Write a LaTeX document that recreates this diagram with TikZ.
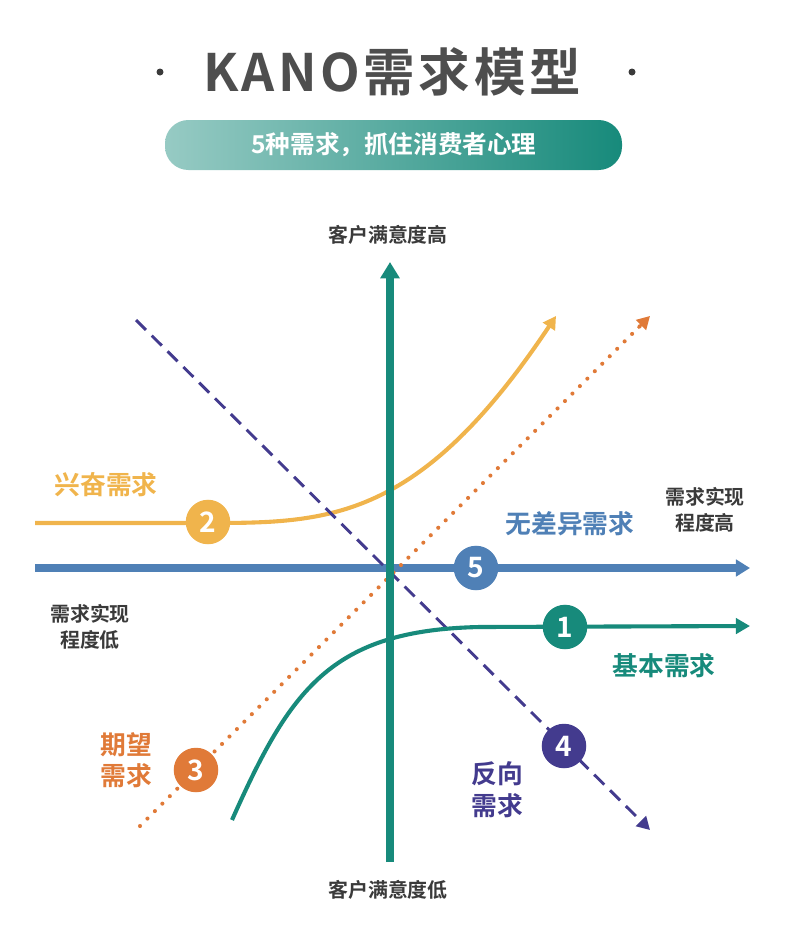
\documentclass[tikz,border=0pt]{standalone}
\usepackage{fontspec}
\newfontfamily\cjk{Noto Sans CJK SC}
\newfontfamily\cjkb{Noto Sans CJK SC Bold}
\newfontfamily\titlef[LetterSpace=7]{Noto Sans CJK SC Bold}
\usetikzlibrary{arrows.meta,shadings}
\definecolor{teal1}{HTML}{178A7B}
\definecolor{blue1}{HTML}{4F80B6}
\definecolor{yel1}{HTML}{F0B44C}
\definecolor{ora1}{HTML}{E07A38}
\definecolor{pur1}{HTML}{433B8E}
\definecolor{dark1}{HTML}{3A3A3A}
\tikzset{
  num/.style={circle,fill=#1,minimum size=38pt,inner sep=0pt,text=white,font=\cjkb\fontsize{24}{24}\selectfont},
  lab/.style={text=#1,font=\cjkb\fontsize{22}{27}\selectfont,align=center},
  axlab/.style={text=dark1,font=\cjkb\fontsize{17}{22}\selectfont,align=center},
}
\begin{document}
\begin{tikzpicture}[x=0.03cm,y=-0.03cm]
	\useasboundingbox (0,0) rectangle (800,943);
	% title
	\node[text=dark1!90,font=\titlef\fontsize{44}{44}\selectfont] (title) at (392,72) {KANO需求模型};
	\fill[dark1] (160,72) circle (3.5) (632,72) circle (3.5);
	\shade[left color=teal1!45,right color=teal1,rounded corners=20pt] (165,120) rectangle (622,170);
	\node[text=white,font=\cjkb\fontsize{21}{21}\selectfont] (sub) at (394,145) {5种需求，抓住消费者心理};
	% axes
	\coordinate (vb) at (390,862); \coordinate (vt) at (390,262);
	\coordinate (hl) at (35,568); \coordinate (hr) at (750,568);
	\draw[blue1,line width=6pt,-{Triangle[length=12pt,width=14pt]}] (hl) -- (hr);
	% curves
	\draw[yel1,line width=3.5pt,-{Triangle[length=11pt,width=12pt]}] (35,523) -- (210,523) .. controls (330,523) and (420,520) .. (556,316);
	\draw[ora1,line width=3.5pt,dash pattern=on 0pt off 9pt,line cap=round] (140,826) -- (640,326);
	\draw[ora1,line width=2pt,-{Triangle[length=11pt,width=12pt]}] (638,328) -- (650,316);
	\draw[pur1,line width=2.5pt,dash pattern=on 12pt off 7pt,-{Triangle[length=11pt,width=12pt]}] (136,320) -- (650,830);
	\draw[teal1,line width=3.5pt,-{Triangle[length=12pt,width=13pt]}] (232,820) .. controls (290,690) and (330,630) .. (480,627) -- (750,626);
	\draw[teal1,line width=6pt,-{Triangle[length=14pt,width=16pt]}] (vb) -- (vt);
	% numbers
	\node[num=yel1] (n2) at (208,522) {2};
	\node[num=blue1] (n5) at (476,568) {5};
	\node[num=teal1] (n1) at (565,627) {1};
	\node[num=pur1] (n4) at (564,746) {4};
	\node[num=ora1] (n3) at (196,770) {3};
	% labels
	\node[axlab] (top) at (388,235) {客户满意度高};
	\node[axlab] (bot) at (388,890) {客户满意度低};
	\node[axlab] (rh) at (705,510) {需求实现\\程度高};
	\node[axlab] (rl) at (90,627) {需求实现\\程度低};
	\node[lab=yel1] (l2) at (106,485) {兴奋需求};
	\node[lab=blue1] (l5) at (570,524) {无差异需求};
	\node[lab=teal1] (l1) at (664,666) {基本需求};
	\node[lab=ora1] (l3) at (126,760) {期望\\需求};
	\node[lab=pur1] (l4) at (497,790) {反向\\需求};
\end{tikzpicture}
\end{document}
